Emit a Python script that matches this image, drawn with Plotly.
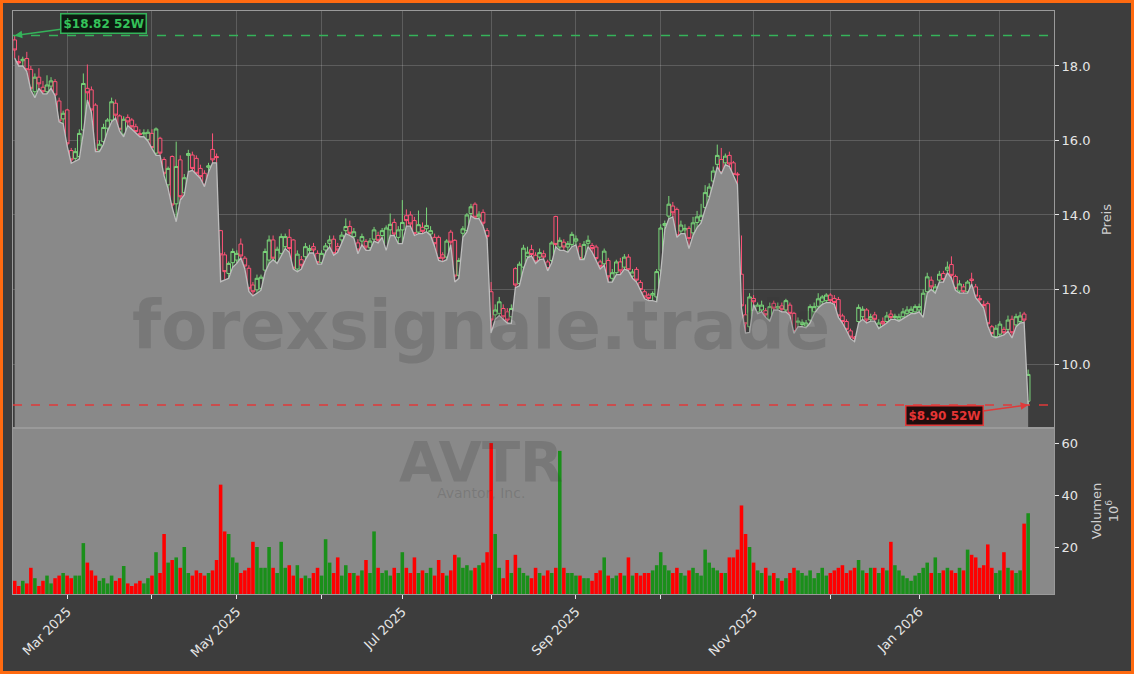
import pandas as pd
import plotly.graph_objects as go

# ---------------- data ----------------
HOLIDAYS = ["2025-02-17", "2025-04-18", "2025-05-26", "2025-06-19", "2025-07-04",
            "2025-09-01", "2025-11-27", "2025-12-25", "2026-01-01", "2026-01-19"]
dates = pd.bdate_range("2025-02-11", "2026-02-11", freq="C", holidays=HOLIDAYS)
date_labels = [d.strftime("%Y-%m-%d") for d in dates]

opens = [18.70, 18.12, 18.14, 18.20, 17.91, 17.31, 17.70, 17.43, 17.31, 17.46, 17.58, 17.06,
         16.58, 16.82, 15.73, 15.52, 15.57, 16.28, 17.40, 17.36, 16.95, 15.74, 15.97, 16.33,
         16.55, 17.00, 16.66, 16.17, 16.62, 16.55, 16.37, 16.19, 16.18, 16.03, 16.19, 15.66,
         16.06, 15.49, 14.81, 15.57, 14.30, 15.48, 14.60, 15.60, 15.61, 15.52, 15.25, 15.12,
         15.28, 15.76, 15.57, 13.58, 12.93, 12.43, 12.72, 12.79, 13.22, 12.84, 12.57, 12.12,
         11.99, 12.03, 12.52, 12.79, 13.33, 12.73, 12.97, 13.15, 13.40, 13.33, 12.55, 12.80,
         12.88, 13.05, 13.15, 12.97, 12.72, 13.06, 13.24, 13.35, 13.15, 13.33, 13.58, 13.69,
         13.42, 13.25, 13.30, 13.29, 13.12, 13.35, 13.45, 13.45, 13.10, 13.60, 13.80, 13.40,
         13.60, 13.98, 14.00, 13.85, 13.54, 13.67, 13.63, 13.49, 13.40, 13.40, 12.93, 12.87,
         13.54, 13.32, 12.38, 13.51, 13.58, 14.04, 14.29, 13.95, 14.07, 13.58, 11.94, 11.32,
         11.36, 11.49, 11.40, 11.27, 12.56, 12.16, 12.60, 12.89, 13.07, 12.92, 12.87, 12.96,
         12.74, 12.78, 13.96, 13.14, 13.27, 13.14, 13.21, 13.30, 13.16, 12.83, 13.24, 13.18,
         13.14, 12.74, 12.69, 12.78, 12.30, 12.45, 12.74, 12.60, 12.87, 12.36, 12.54, 12.19,
         11.94, 11.85, 11.85, 11.80, 12.52, 13.72, 13.97, 14.24, 14.15, 13.57, 13.60, 13.64,
         13.52, 13.80, 13.85, 14.20, 14.50, 14.91, 15.36, 15.49, 15.40, 15.60, 15.40, 15.10,
         12.41, 11.32, 11.00, 11.76, 11.40, 11.45, 11.43, 11.20, 11.63, 11.50, 11.56, 11.45,
         11.58, 11.36, 11.12, 11.06, 11.02, 11.18, 11.40, 11.55, 11.67, 11.70, 11.85, 11.76,
         11.73, 11.29, 11.14, 10.89, 10.72, 11.14, 11.27, 11.45, 11.20, 11.32, 10.99, 11.14,
         11.14, 11.34, 11.25, 11.20, 11.27, 11.36, 11.38, 11.40, 11.45, 11.29, 11.94, 12.25,
         11.96, 12.25, 12.43, 12.52, 12.67, 12.35, 11.96, 12.07, 11.94, 12.28, 12.07, 11.76,
         11.60, 11.62, 11.00, 10.74, 10.80, 10.93, 10.93, 11.20, 11.05, 11.14, 11.34, 9.00]

highs = [18.82, 18.28, 18.25, 18.38, 18.00, 17.80, 17.94, 17.60, 17.75, 17.70, 17.65, 17.15,
         16.80, 16.85, 15.80, 15.80, 16.30, 17.80, 18.04, 17.45, 17.00, 16.00, 16.45, 16.60,
         17.15, 17.10, 16.70, 16.65, 16.70, 16.60, 16.45, 16.30, 16.30, 16.30, 16.30, 16.35,
         16.10, 15.55, 15.30, 15.60, 15.97, 15.60, 15.10, 15.75, 15.70, 15.60, 15.35, 15.20,
         15.40, 16.19, 15.65, 13.60, 13.00, 12.75, 13.10, 13.05, 13.37, 12.90, 12.65, 12.20,
         12.40, 12.40, 13.10, 13.45, 13.45, 13.15, 13.50, 13.50, 13.62, 13.35, 13.05, 12.90,
         13.25, 13.20, 13.25, 13.05, 13.05, 13.25, 13.45, 13.45, 13.25, 13.55, 13.91, 13.85,
         13.65, 13.35, 13.50, 13.35, 13.38, 13.68, 13.55, 13.65, 13.72, 14.04, 13.90, 13.70,
         14.40, 14.15, 14.10, 13.95, 14.12, 13.80, 14.20, 13.70, 13.50, 13.45, 13.00, 13.35,
         13.60, 13.35, 12.85, 13.70, 14.05, 14.30, 14.34, 14.10, 14.15, 13.65, 12.20, 11.60,
         11.80, 11.60, 11.50, 11.60, 12.60, 12.75, 13.20, 13.15, 13.20, 13.00, 13.10, 13.05,
         12.80, 13.30, 13.98, 13.40, 13.35, 13.30, 13.55, 13.45, 13.25, 13.30, 13.45, 13.25,
         13.20, 12.80, 13.10, 12.85, 12.55, 12.80, 12.85, 12.95, 12.95, 12.55, 12.60, 12.25,
         12.00, 11.90, 11.95, 12.55, 13.75, 13.85, 14.51, 14.35, 14.20, 13.85, 13.75, 13.70,
         13.95, 14.11, 14.30, 14.80, 14.85, 15.30, 15.89, 15.80, 15.65, 15.70, 15.45, 15.15,
         13.45, 11.60, 11.90, 11.85, 11.65, 11.70, 11.50, 11.65, 11.70, 11.65, 11.65, 11.75,
         11.65, 11.40, 11.25, 11.20, 11.18, 11.60, 11.65, 11.90, 11.85, 11.90, 11.90, 11.85,
         11.80, 11.35, 11.20, 10.95, 10.75, 11.60, 11.55, 11.50, 11.35, 11.40, 11.20, 11.25,
         11.40, 11.45, 11.35, 11.35, 11.50, 11.55, 11.55, 11.60, 11.62, 12.00, 12.45, 12.35,
         12.15, 12.50, 12.50, 12.75, 12.89, 12.40, 12.25, 12.15, 12.25, 12.45, 12.15, 11.85,
         11.70, 11.68, 11.05, 11.05, 11.15, 11.00, 11.30, 11.30, 11.35, 11.40, 11.40, 9.85]

lows = [18.21, 18.00, 18.00, 17.85, 17.35, 17.15, 17.40, 17.25, 17.25, 17.40, 17.20, 16.50,
        16.45, 15.85, 15.39, 15.45, 15.50, 16.20, 17.09, 16.75, 15.70, 15.70, 15.90, 16.25,
        16.50, 16.60, 16.25, 16.10, 16.40, 16.30, 16.20, 16.10, 16.10, 15.98, 15.78, 15.60,
        15.60, 15.05, 14.70, 14.20, 13.82, 14.40, 14.54, 15.16, 15.20, 15.10, 14.98, 14.76,
        15.15, 15.40, 15.40, 12.21, 12.26, 12.30, 12.60, 12.70, 12.85, 12.55, 11.95, 11.83,
        11.90, 11.98, 12.45, 12.70, 12.80, 12.70, 12.90, 13.10, 13.00, 12.55, 12.48, 12.55,
        12.80, 12.98, 12.98, 12.68, 12.68, 13.00, 13.15, 12.92, 13.00, 13.25, 13.50, 13.45,
        13.38, 12.96, 13.20, 13.05, 13.05, 13.30, 13.25, 13.40, 13.05, 13.45, 13.45, 13.23,
        13.23, 13.70, 13.70, 13.45, 13.50, 13.50, 13.55, 13.45, 13.15, 12.78, 12.75, 12.80,
        13.20, 12.20, 12.30, 13.40, 13.55, 13.98, 13.90, 13.90, 13.70, 13.35, 10.83, 11.20,
        11.30, 11.20, 11.10, 11.09, 12.05, 12.10, 12.55, 12.85, 12.90, 12.70, 12.80, 12.82,
        12.50, 12.72, 13.15, 13.05, 13.05, 13.00, 13.15, 13.20, 12.80, 12.80, 13.15, 13.00,
        12.78, 12.55, 12.65, 12.20, 12.20, 12.40, 12.40, 12.55, 12.50, 12.30, 12.20, 11.95,
        11.75, 11.70, 11.70, 11.67, 12.45, 13.60, 13.90, 13.95, 13.40, 13.50, 13.50, 13.10,
        13.45, 13.66, 13.79, 14.15, 14.45, 14.85, 15.30, 15.10, 15.35, 15.30, 15.05, 14.82,
        11.50, 10.83, 10.85, 11.60, 11.35, 11.40, 11.25, 11.15, 11.45, 11.45, 11.40, 11.40,
        11.30, 10.82, 11.00, 11.00, 10.97, 11.10, 11.35, 11.50, 11.60, 11.65, 11.65, 11.60,
        11.25, 11.10, 10.90, 10.68, 10.60, 11.10, 11.20, 11.10, 11.15, 11.15, 10.95, 11.02,
        11.10, 11.20, 11.20, 11.15, 11.22, 11.30, 11.35, 11.35, 11.40, 11.25, 11.90, 12.00,
        11.90, 12.20, 12.20, 12.45, 12.30, 11.98, 11.90, 11.90, 11.90, 12.15, 11.78, 11.65,
        11.50, 11.02, 10.75, 10.70, 10.75, 10.78, 10.88, 10.70, 11.00, 11.10, 11.12, 8.90]

closes = [18.43, 18.08, 18.18, 17.90, 17.40, 17.70, 17.52, 17.31, 17.49, 17.60, 17.22, 16.52,
          16.73, 15.91, 15.48, 15.70, 16.19, 17.53, 17.28, 16.82, 15.74, 15.90, 16.35, 16.55,
          17.04, 16.68, 16.30, 16.57, 16.50, 16.37, 16.24, 16.16, 16.20, 16.22, 15.81, 16.31,
          15.66, 15.12, 15.25, 14.27, 15.30, 14.49, 15.00, 15.65, 15.25, 15.12, 15.03, 14.80,
          15.32, 15.48, 15.54, 12.93, 12.48, 12.70, 13.02, 12.97, 12.90, 12.63, 12.03, 11.94,
          12.30, 12.33, 13.02, 13.33, 12.84, 13.08, 13.42, 13.42, 13.10, 12.57, 12.95, 12.65,
          13.15, 13.10, 13.06, 12.72, 12.97, 13.17, 13.33, 12.97, 13.06, 13.46, 13.69, 13.51,
          13.55, 13.06, 13.42, 13.14, 13.30, 13.60, 13.32, 13.58, 13.65, 13.75, 13.49, 13.60,
          13.80, 13.85, 13.76, 13.50, 13.74, 13.56, 13.72, 13.58, 13.23, 12.83, 12.84, 13.30,
          13.27, 12.36, 12.78, 13.63, 14.00, 14.22, 13.94, 14.02, 13.78, 13.42, 11.18, 11.45,
          11.67, 11.27, 11.18, 11.49, 12.12, 12.68, 13.11, 13.00, 12.94, 12.74, 12.99, 12.87,
          12.56, 13.25, 13.21, 13.32, 13.14, 13.23, 13.48, 13.36, 12.83, 13.21, 13.32, 13.10,
          12.83, 12.62, 13.03, 12.34, 12.45, 12.74, 12.50, 12.87, 12.53, 12.47, 12.25, 12.00,
          11.80, 11.76, 11.89, 12.48, 13.65, 13.77, 14.29, 14.06, 13.44, 13.73, 13.64, 13.37,
          13.79, 13.95, 13.98, 14.60, 14.75, 15.18, 15.60, 15.13, 15.58, 15.37, 15.09, 15.08,
          11.56, 11.08, 11.80, 11.67, 11.58, 11.58, 11.32, 11.54, 11.50, 11.54, 11.47, 11.70,
          11.36, 10.87, 11.15, 11.12, 11.10, 11.54, 11.54, 11.75, 11.80, 11.85, 11.70, 11.65,
          11.29, 11.14, 10.93, 10.72, 10.68, 11.52, 11.47, 11.18, 11.27, 11.20, 11.10, 11.08,
          11.29, 11.25, 11.28, 11.27, 11.40, 11.45, 11.47, 11.54, 11.54, 11.90, 12.34, 12.07,
          12.07, 12.41, 12.27, 12.60, 12.38, 12.03, 12.15, 11.94, 12.20, 12.24, 11.82, 11.72,
          11.57, 11.08, 10.82, 10.96, 11.07, 10.84, 11.18, 10.84, 11.27, 11.29, 11.18, 9.72]

# volume in millions
volumes = [7, 5, 7, 6, 12, 8, 5, 7, 9, 6, 8, 9,
           10, 9, 8, 9, 9, 21.5, 14, 11, 9, 7, 8, 6,
           9, 7, 8, 12.7, 6, 5, 6, 7, 6, 8, 9, 18,
           10, 25, 14, 15, 16, 12, 20, 10, 9, 11, 10, 9,
           10, 11, 15, 44, 26, 25, 16, 14, 10, 11, 12, 22,
           20, 12, 12, 20, 12, 10, 22, 12, 13, 9, 13, 8,
           9, 8, 10, 12, 9, 23, 14, 10, 16, 9, 13, 10,
           10, 9, 11, 15, 10, 26, 12, 10, 11, 9, 12, 10,
           18, 12, 10, 16, 10, 11, 10, 12, 9, 15, 10, 9,
           11, 17, 16, 12, 13, 11, 12, 13, 14, 18, 60, 25,
           12, 8, 15, 10, 17, 12, 10, 9, 8, 12, 10, 9,
           11, 10, 12, 57, 12, 10, 10, 9, 9, 8, 8, 7,
           10, 11, 16, 9, 8, 9, 10, 9, 16, 9, 10, 9,
           10, 10, 11, 13, 18, 13, 11, 10, 12, 10, 9, 11,
           12, 10, 9, 19, 14, 12, 11, 10, 10, 16, 16, 19,
           36, 25, 20, 14, 11, 10, 12, 9, 10, 8, 7, 8,
           10, 12, 11, 10, 9, 11, 8, 10, 12, 9, 10, 11,
           12, 13, 10, 11, 12, 15, 11, 10, 12, 12, 10, 12,
           11, 22, 13, 11, 9, 8, 7, 9, 10, 12, 14, 10,
           16, 10, 11, 12, 11, 10, 12, 11, 19, 17, 16, 12,
           13, 21, 12, 10, 11, 18, 12, 11, 10, 11, 29, 33]

HIGH_52W = 18.82
LOW_52W = 8.90
TICKER = "AVTR"
COMPANY = "Avantor, Inc."
WATERMARK = "forexsignale.trade"

# ---------------- derived ----------------
n = len(date_labels)
vol_colors = ["#1a8f1a" if c >= o else "#ff0000" for o, c in zip(opens, closes)]

# month ticks: first trading day in each month
tickvals, ticktext = [], []
prev = None
for d in dates:
    key = (d.year, d.month)
    if key != prev:
        if prev is not None:
            tickvals.append(d.strftime("%Y-%m-%d"))
            ticktext.append(d.strftime("%b %Y") if d.month % 2 == 1 else "")
        prev = key

BG = "#3d3d3d"
GRID = "rgba(255,255,255,0.17)"
TXT = "#e6e6e6"

fig = go.Figure()

# grey area under the lows
fig.add_trace(go.Scatter(x=date_labels, y=lows, mode="lines", fill="tozeroy",
                         line=dict(color="#bdbdbd", width=1.3), fillcolor="#898989",
                         hoverinfo="skip", showlegend=False, xaxis="x", yaxis="y"))

fig.add_trace(go.Candlestick(
    x=date_labels, open=opens, high=highs, low=lows, close=closes,
    increasing=dict(line=dict(color="#7ad67a", width=1), fillcolor="rgba(62,62,62,0.75)"),
    decreasing=dict(line=dict(color="#ff5277", width=1), fillcolor="rgba(62,62,62,0.75)"),
    whiskerwidth=0, showlegend=False, xaxis="x", yaxis="y", name=TICKER))

fig.add_trace(go.Bar(x=date_labels, y=volumes, marker=dict(color=vol_colors, line=dict(width=0)),
                     showlegend=False, xaxis="x2", yaxis="y2", name="Volumen"))

x_range = [-0.42, 257.4]
split = 166 / 583

fig.update_layout(
    width=1134, height=674,
    margin=dict(l=13, r=80, t=11, b=80),
    paper_bgcolor=BG, plot_bgcolor=BG,
    font=dict(family="DejaVu Sans", color=TXT, size=12),
    bargap=0.12, boxgap=0.1, boxgroupgap=0,
    showlegend=False,
    xaxis=dict(type="category", domain=[0, 1], anchor="y", range=x_range,
               tickvals=tickvals, ticktext=[""] * len(tickvals), ticks="",
               showgrid=True, gridcolor=GRID, gridwidth=1,
               showline=True, linecolor="#9a9a9a", linewidth=1, mirror=True,
               rangeslider=dict(visible=False), zeroline=False),
    yaxis=dict(domain=[split, 1], anchor="x", side="right", range=[8.282, 19.476],
               tickvals=[10, 12, 14, 16, 18], ticktext=["10.0", "12.0", "14.0", "16.0", "18.0"],
               ticks="outside", ticklen=4, tickcolor=TXT, tickfont=dict(size=13, color=TXT),
               showgrid=True, gridcolor=GRID, zeroline=False,
               showline=True, linecolor="#9a9a9a", mirror=True,
               title=dict(text="Preis", font=dict(size=13, color="#d0d0d0"), standoff=12)),
    xaxis2=dict(type="category", domain=[0, 1], anchor="y2", matches="x", range=x_range,
                tickvals=tickvals, ticktext=ticktext, tickangle=-45,
                ticks="outside", ticklen=4, tickcolor=TXT, tickfont=dict(size=13, color=TXT),
                showgrid=False, showline=True, linecolor="#9a9a9a", mirror=True, zeroline=False),
    yaxis2=dict(domain=[0, split], anchor="x2", side="right", range=[1.92, 65.8],
                tickvals=[20, 40, 60], ticks="outside", ticklen=4, tickcolor=TXT,
                tickfont=dict(size=13, color=TXT), showgrid=False, zeroline=False,
                showline=True, linecolor="#9a9a9a", mirror=True,
                title=dict(text="Volumen<br>10<sup>6</sup>", font=dict(size=13, color="#d0d0d0"),
                           standoff=14)),
)

shapes = [
    # volume panel background
    dict(type="rect", xref="x2 domain", yref="y2 domain", x0=0, x1=1, y0=0, y1=1,
         fillcolor="#898989", line=dict(width=0), layer="below"),
    # 52W lines
    dict(type="line", xref="x domain", yref="y", x0=0, x1=1, y0=HIGH_52W, y1=HIGH_52W,
         line=dict(color="#35b35a", width=1.5, dash="dash")),
    dict(type="line", xref="x domain", yref="y", x0=0, x1=1, y0=LOW_52W, y1=LOW_52W,
         line=dict(color="#e03a3a", width=1.5, dash="dash")),
    # orange frame
    dict(type="rect", xref="paper", yref="paper",
         x0=-11.5 / 1041, x1=1119.5 / 1041, y0=-78.5 / 583, y1=592.5 / 583,
         line=dict(color="#ff6a10", width=3), fillcolor="rgba(0,0,0,0)", layer="above"),
]
fig.update_layout(shapes=shapes)

wm_color = "rgba(55,55,55,0.2)"
annotations = [
    dict(text="<b>" + WATERMARK + "</b>", xref="paper", yref="paper", x=0.4496, y=(594 - 326) / 583,
         showarrow=False, font=dict(size=67, color=wm_color, family="DejaVu Sans"),
         xanchor="center", yanchor="middle"),
    dict(text="<b>" + TICKER + "</b>", xref="paper", yref="paper", x=0.4496, y=(594 - 461) / 583,
         showarrow=False, font=dict(size=56, color=wm_color, family="DejaVu Sans"),
         xanchor="center", yanchor="middle"),
    dict(text=COMPANY, xref="paper", yref="paper", x=0.4496, y=(594 - 493) / 583,
         showarrow=False, font=dict(size=14, color=wm_color, family="DejaVu Sans"),
         xanchor="center", yanchor="middle"),
    dict(text="<b>$%.2f 52W</b>" % HIGH_52W, x=date_labels[0], y=HIGH_52W, xref="x", yref="y",
         ax=89, ay=-12, showarrow=True, arrowhead=2, arrowsize=1, arrowwidth=1.5,
         arrowcolor="#35b35a", font=dict(size=12, color="#35c35a", family="DejaVu Sans"),
         bgcolor="#0d1a10", bordercolor="#35b35a", borderwidth=1.5, borderpad=2),
    dict(text="<b>$%.2f 52W</b>" % LOW_52W, x=date_labels[-1], y=LOW_52W, xref="x", yref="y",
         ax=-84, ay=11, showarrow=True, arrowhead=2, arrowsize=1, arrowwidth=1.5,
         arrowcolor="#e03a3a", font=dict(size=12, color="#e53535", family="DejaVu Sans"),
         bgcolor="#1e0d0d", bordercolor="#e03a3a", borderwidth=1.5, borderpad=2),
]
fig.update_layout(annotations=annotations)

fig.write_html("out.html", config={"displayModeBar": False},
               post_script="document.body.style.margin='0px';document.body.style.background='#ffffff';")
